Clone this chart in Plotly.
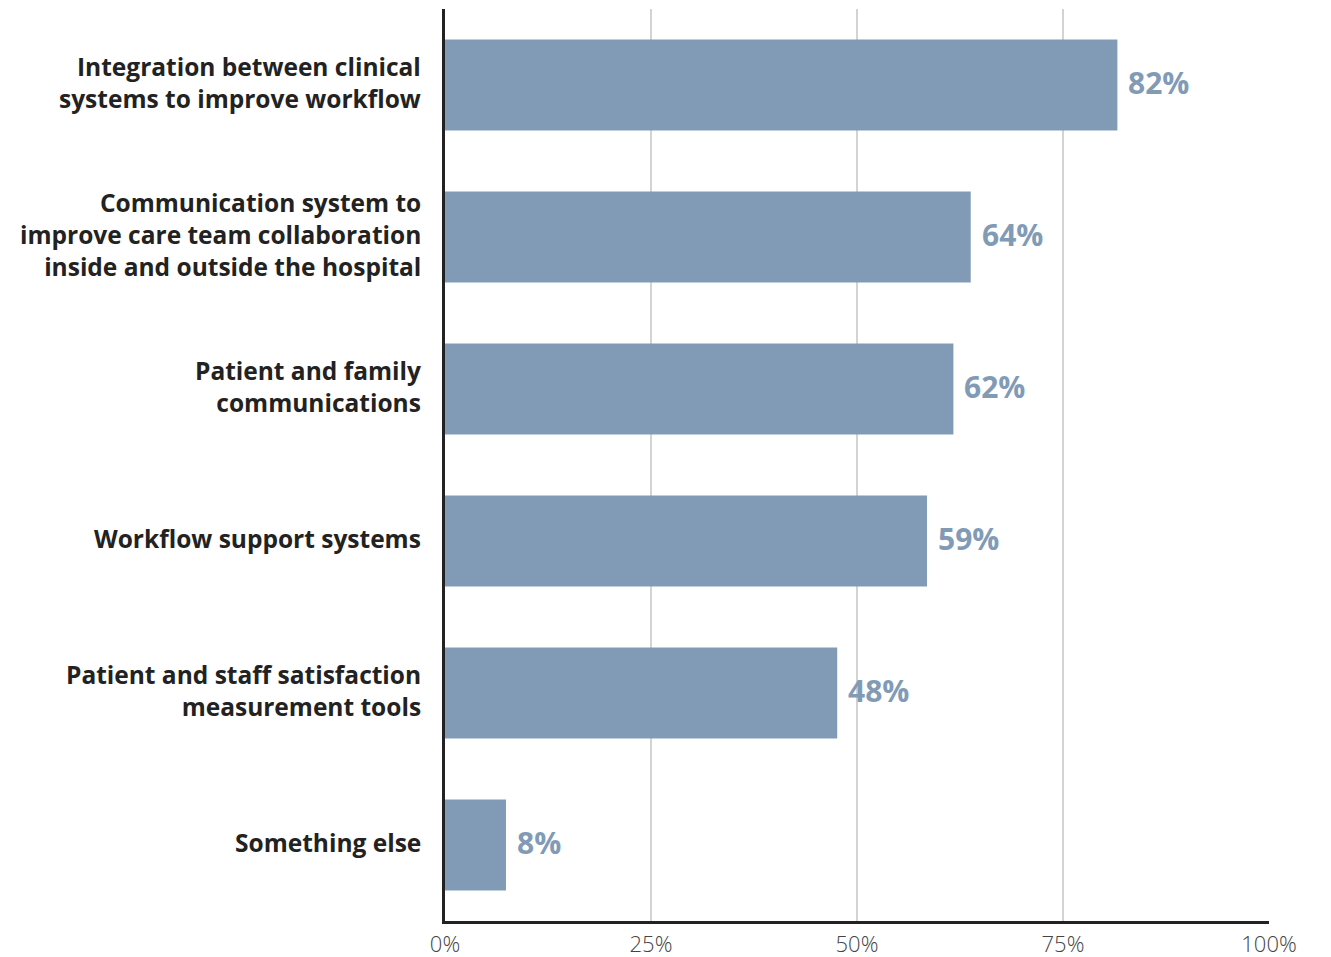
import plotly.graph_objects as go

categories = [
    "Integration between clinical<br>systems to improve workflow",
    "Communication system to<br>improve care team collaboration<br>inside and outside the hospital",
    "Patient and family<br>communications",
    "Workflow support systems",
    "Patient and staff satisfaction<br>measurement tools",
    "Something else",
]
values = [81.6, 63.8, 61.7, 58.5, 47.6, 7.4]
labels = ["82%", "64%", "62%", "59%", "48%", "8%"]
tick_vals = [0, 25, 50, 75, 100]
tick_text = ["0%", "25%", "50%", "75%", "100%"]

bar_color = "#819bb6"
FONT = "Open Sans"

fig = go.Figure(go.Bar(
    y=categories,
    x=values,
    orientation="h",
    width=0.6,
    marker=dict(color=bar_color, line=dict(width=0)),
    hoverinfo="x+y",
))

for cat, v, lab in zip(categories, values, labels):
    fig.add_annotation(
        x=v, y=cat, text=lab, showarrow=False,
        xanchor="left", xshift=9, yshift=3,
        font=dict(family=FONT, size=30, color=bar_color, weight="bold"),
    )
    fig.add_annotation(
        x=0, xref="paper", y=cat, text=cat, showarrow=False,
        xanchor="right", align="right", xshift=-22, yshift=3,
        font=dict(family=FONT, size=24.5, color="#222222", weight="bold"),
    )

fig.update_layout(
    width=1331, height=957,
    margin=dict(l=445, r=62, t=9, b=36),
    plot_bgcolor="white",
    paper_bgcolor="white",
    showlegend=False,
    font=dict(family=FONT),
)
fig.update_xaxes(
    range=[0, 100],
    tickvals=tick_vals,
    ticktext=tick_text,
    automargin=False,
    showgrid=True,
    gridcolor="#d3d3d3",
    gridwidth=2,
    showline=True,
    linecolor="#222222",
    linewidth=2.5,
    zeroline=False,
    tickfont=dict(family=FONT, size=22, color="#444444", weight=300),
    ticks="",
    ticklabelstandoff=2,
)
fig.update_yaxes(
    autorange="reversed",
    automargin=False,
    showline=True,
    linecolor="#222222",
    linewidth=2.5,
    showgrid=False,
    ticks="",
    showticklabels=False,
)

fig.write_html("out.html")
